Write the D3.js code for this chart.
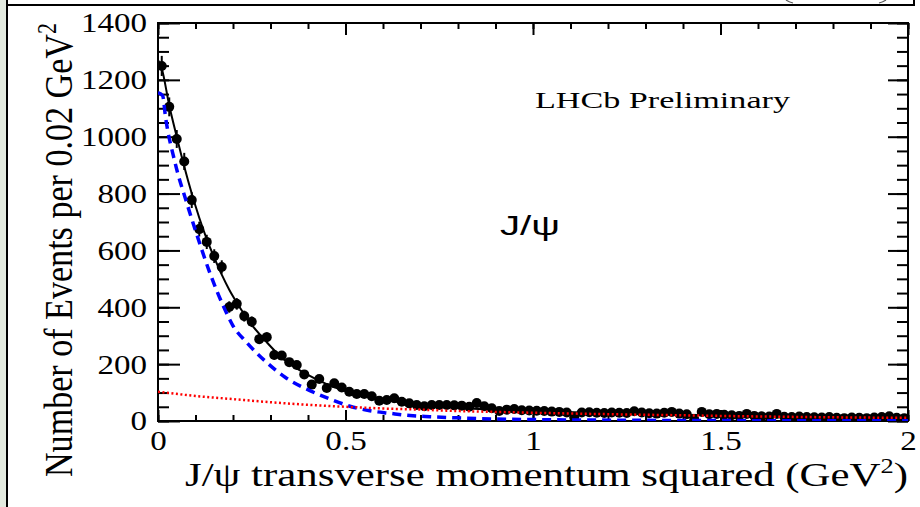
<!DOCTYPE html>
<html>
<head>
<meta charset="utf-8">
<script src="https://cdn.jsdelivr.net/npm/d3@7"></script>
<style>
  body { margin: 0; background: #fff; }
  svg { display: block; }
  .serif { font-family: "Liberation Serif", Times, serif; fill: #000; }
  .axis path { display: none; }
  .axis line { stroke: #000; stroke-width: 2; }
</style>
</head>
<body>
<svg id="chart" width="920" height="507"></svg>
<script>
// bin counts, 0.02 GeV^2 bins from 0 to 2
var counts = [
  1249, 1105, 992, 913, 777, 675, 630, 580, 542, 401,
  412, 369, 349, 288, 295, 232, 230, 207, 197, 164,
  128, 148, 116, 133, 118, 103, 95, 95, 87, 71,
  74, 80, 68, 62, 56, 52, 56, 56, 56, 55,
  54, 50, 63, 52, 45, 35, 40, 42, 38, 37,
  36, 35, 33, 32, 30, 12, 30, 31, 29, 28,
  30, 29, 28, 34, 30, 27, 26, 29, 32, 26,
  24, 6, 32, 24, 25, 22, 20, 18, 25, 18,
  17, 16, 25, 15, 14, 16, 14, 13, 12, 14,
  11, 10, 12, 11, 10, 12, 14, 17, 11, 10
];
var binWidth = 0.02;

// total fit (black solid)
var totalX = [0, 0.01, 0.03, 0.05, 0.07, 0.09, 0.11, 0.13, 0.15, 0.17, 0.19, 0.21, 0.245, 0.29, 0.334, 0.396, 0.45, 0.5, 0.6, 0.7, 0.8, 0.9, 1.0, 1.2, 1.4, 1.6, 1.8, 2.0];
var totalY = [1270, 1240, 1110, 1000, 895, 800, 715, 640, 575, 515, 462, 417, 347, 277, 218, 165, 130, 105, 75, 58, 47, 40, 35, 28, 22, 18, 14, 11];

// signal (blue dashed)
var signalX = [0, 0.0125, 0.02, 0.045, 0.076, 0.1, 0.14, 0.174, 0.2, 0.236, 0.29, 0.339, 0.405, 0.459, 0.512, 0.565, 0.619, 0.672, 0.725, 0.8, 0.9, 1.0, 1.2, 1.5, 2.0];
var signalY = [1155, 1144, 1070, 911, 770, 670, 515, 405, 335, 277, 206, 154, 107, 77, 52, 36, 27, 19, 15, 11, 7, 5, 3, 1.5, 0.5];

// background (red dotted)
var bkgX = [0, 0.1, 0.2, 0.3, 0.4, 0.5, 0.6, 0.7, 0.8, 0.9, 1.0, 1.2, 1.4, 1.6, 1.8, 2.0];
var bkgY = [103, 88, 77, 66, 57, 50, 44, 40, 35, 32, 29, 24, 20, 16, 13, 11];

var xTicks = [0, 0.5, 1, 1.5, 2];
var yTicks = [0, 200, 400, 600, 800, 1000, 1200, 1400];

var svg = d3.select("#chart"),
    margin = {top: 23, right: 12, bottom: 86, left: 158},
    width = +svg.attr("width") - margin.left - margin.right,
    height = +svg.attr("height") - margin.top - margin.bottom;

// page decoration: faint strip and frame lines of the slide
svg.append("rect").attr("x", 0).attr("y", 0).attr("width", 6).attr("height", 507).attr("fill", "#e3eadf");
svg.append("line").attr("x1", 7).attr("x2", 7).attr("y1", 0).attr("y2", 507).attr("stroke", "#000").attr("stroke-width", 2);
svg.append("line").attr("x1", 7).attr("x2", 914).attr("y1", 5).attr("y2", 5).attr("stroke", "#000").attr("stroke-width", 2);
svg.append("line").attr("x1", 914).attr("x2", 914).attr("y1", 0).attr("y2", 6).attr("stroke", "#000").attr("stroke-width", 2);
// bits of a bracket pair cut by the top edge
svg.append("path").attr("d", "M786,0 Q789,2 793,3").attr("fill", "none").attr("stroke", "#555").attr("stroke-width", 1.2);
svg.append("path").attr("d", "M886,0 Q883,2 879,3").attr("fill", "none").attr("stroke", "#555").attr("stroke-width", 1.2);

var x = d3.scaleLinear().domain([0, 2]).range([0, width]);
var y = d3.scaleLinear().domain([0, 1400]).range([height, 0]);

var g = svg.append("g")
    .attr("transform", "translate(" + margin.left + "," + margin.top + ")");

g.append("clipPath").attr("id", "plotclip")
  .append("rect").attr("width", width).attr("height", height);

var sx = 1.18; // glyphs in the picture are stretched sideways

// minor ticks
var xMinor = d3.range(0, 2.0001, 0.1);
var yMinor = d3.range(0, 1400.1, 50);

g.append("g").attr("class", "axis")
    .attr("transform", "translate(0," + height + ")")
    .call(d3.axisBottom(x).tickValues(xMinor).tickSize(-6).tickFormat(""));
g.append("g").attr("class", "axis")
    .call(d3.axisTop(x).tickValues(xMinor).tickSize(-6).tickFormat(""));
g.append("g").attr("class", "axis")
    .call(d3.axisLeft(y).tickValues(yMinor).tickSize(-11).tickFormat(""));
g.append("g").attr("class", "axis")
    .attr("transform", "translate(" + width + ",0)")
    .call(d3.axisRight(y).tickValues(yMinor).tickSize(-11).tickFormat(""));

// major ticks with labels
var xAxis = g.append("g").attr("class", "axis")
    .attr("transform", "translate(0," + height + ")")
    .call(d3.axisBottom(x).tickValues(xTicks).tickSize(-11).tickPadding(10).tickFormat(d3.format("")));
g.append("g").attr("class", "axis")
    .call(d3.axisTop(x).tickValues(xTicks).tickSize(-12).tickFormat(""));
var yAxis = g.append("g").attr("class", "axis")
    .call(d3.axisLeft(y).tickValues(yTicks).tickSize(-22).tickFormat(d3.format("d")));
g.append("g").attr("class", "axis")
    .attr("transform", "translate(" + width + ",0)")
    .call(d3.axisRight(y).tickValues(yTicks).tickSize(-20).tickFormat(""));

xAxis.attr("font-family", "Liberation Serif").attr("font-size", 28);
yAxis.attr("font-family", "Liberation Serif").attr("font-size", 28);
xAxis.selectAll("text")
    .attr("class", "serif")
    .attr("y", 9)
    .attr("x", 0)
    .attr("transform", "scale(" + sx + ",1)");
yAxis.selectAll("text")
    .attr("class", "serif")
    .attr("x", -11 / sx)
    .attr("transform", "scale(" + sx + ",1)");

// frame
g.append("rect")
    .attr("width", width).attr("height", height)
    .attr("fill", "none").attr("stroke", "#000").attr("stroke-width", 2);

// data points with poisson error bars
var points = counts.map(function(c, i) { return {x: i * binWidth + binWidth / 2, n: c}; });

var plot = g.append("g").attr("clip-path", "url(#plotclip)");

plot.selectAll(".err").data(points).enter().append("line")
    .attr("class", "err")
    .attr("x1", function(d) { return x(d.x); })
    .attr("x2", function(d) { return x(d.x); })
    .attr("y1", function(d) { return y(d.n + Math.sqrt(d.n)); })
    .attr("y2", function(d) { return y(Math.max(0, d.n - Math.sqrt(d.n))); })
    .attr("stroke", "#000").attr("stroke-width", 2);

plot.selectAll(".dot").data(points).enter().append("circle")
    .attr("class", "dot")
    .attr("cx", function(d) { return x(d.x); })
    .attr("cy", function(d) { return y(d.n); })
    .attr("r", 5)
    .attr("fill", "#000");

var line = d3.line()
    .curve(d3.curveMonotoneX)
    .x(function(d) { return x(d[0]); })
    .y(function(d) { return y(d[1]); });

plot.append("path")
    .datum(d3.zip(totalX, totalY))
    .attr("d", line)
    .attr("fill", "none").attr("stroke", "#000").attr("stroke-width", 2);

plot.append("path")
    .datum(d3.zip(signalX, signalY))
    .attr("d", line)
    .attr("fill", "none").attr("stroke", "#0000ff").attr("stroke-width", 3.5)
    .attr("stroke-dasharray", "9,6");

plot.append("path")
    .datum(d3.zip(bkgX, bkgY))
    .attr("d", line)
    .attr("fill", "none").attr("stroke", "#ff0000").attr("stroke-width", 2.5)
    .attr("stroke-dasharray", "2,2.5");

// labels
svg.append("text")
    .attr("class", "serif")
    .attr("x", 185).attr("y", 486)
    .attr("font-size", 34)
    .attr("textLength", 723).attr("lengthAdjust", "spacingAndGlyphs")
    .html("J/\u03c8 transverse momentum squared (GeV<tspan dy='-13' font-size='21'>2</tspan><tspan dy='13'>)</tspan>");

svg.append("text")
    .attr("class", "serif")
    .attr("transform", "translate(72,477) scale(1.2,1) rotate(-90)")
    .attr("font-size", 34)
    .attr("textLength", 454).attr("lengthAdjust", "spacingAndGlyphs")
    .html("Number of Events per 0.02 GeV<tspan dy='-13' font-size='22'>2</tspan>");

svg.append("text")
    .attr("class", "serif")
    .attr("x", 535).attr("y", 108)
    .attr("font-size", 24)
    .attr("textLength", 255).attr("lengthAdjust", "spacingAndGlyphs")
    .text("LHCb Preliminary");

svg.append("text")
    .attr("x", 500).attr("y", 235)
    .attr("font-family", "Liberation Sans, Arial, sans-serif")
    .attr("font-size", 28)
    .attr("textLength", 60).attr("lengthAdjust", "spacingAndGlyphs")
    .text("J/\u03c8");
</script>
</body>
</html>
